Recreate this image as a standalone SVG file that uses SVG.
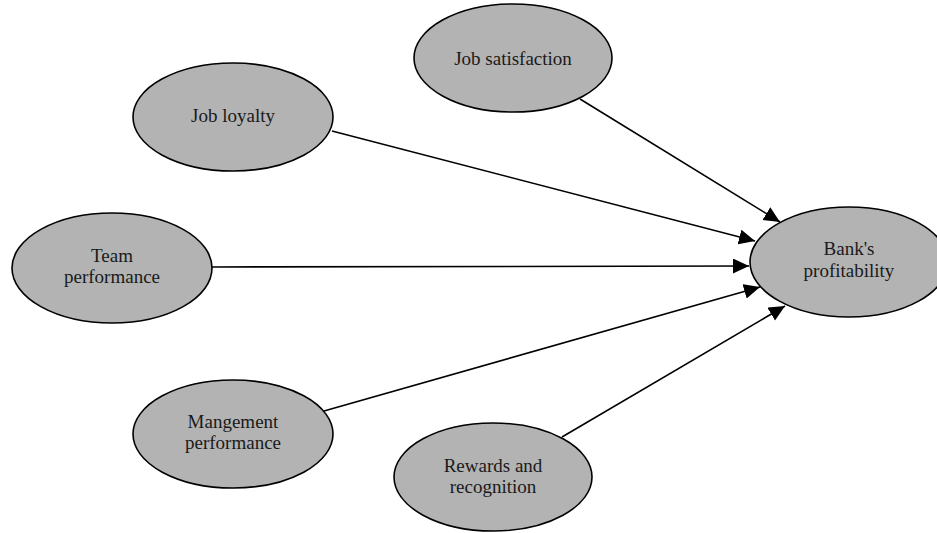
<svg xmlns="http://www.w3.org/2000/svg" width="937" height="533" viewBox="0 0 937 533">
  <style>
    .node ellipse { fill: #b3b3b3; stroke: #000; stroke-width: 1.6; }
    .node text { font-family: "Liberation Serif", "Times New Roman", serif; font-size: 19px; fill: #1a1a1a; text-anchor: middle; }
    .edge { stroke: #000; stroke-width: 1.6; fill: none; marker-end: url(#arrow); }
  </style>
  <defs>
    <marker id="arrow" markerUnits="userSpaceOnUse" markerWidth="18" markerHeight="16" refX="16" refY="7.5" orient="auto">
      <path d="M0,0 L16,7.5 L0,15 Z" fill="#000"/>
    </marker>
  </defs>
  <rect width="937" height="533" fill="#fff"/>

  <g id="connectors">
    <line class="edge" x1="580" y1="99" x2="780" y2="222"/>
    <line class="edge" x1="332" y1="131" x2="755" y2="241"/>
    <line class="edge" x1="212" y1="267" x2="749" y2="266"/>
    <line class="edge" x1="324" y1="411" x2="760" y2="287"/>
    <line class="edge" x1="562" y1="437" x2="785" y2="306"/>
  </g>

  <g id="job-satisfaction" class="node">
    <ellipse cx="513" cy="58" rx="99" ry="54"/>
    <text x="513" y="65">Job satisfaction</text>
  </g>
  <g id="job-loyalty" class="node">
    <ellipse cx="233" cy="117" rx="100" ry="54"/>
    <text x="233" y="122">Job loyalty</text>
  </g>
  <g id="team-performance" class="node">
    <ellipse cx="112" cy="268" rx="100" ry="55"/>
    <text x="112" y="262">Team</text>
    <text x="112" y="283">performance</text>
  </g>
  <g id="banks-profitability" class="node">
    <ellipse cx="849" cy="262" rx="99" ry="55"/>
    <text x="849" y="255">Bank's</text>
    <text x="849" y="277">profitability</text>
  </g>
  <g id="management-performance" class="node">
    <ellipse cx="233" cy="434" rx="100" ry="54"/>
    <text x="233" y="428">Mangement</text>
    <text x="233" y="449">performance</text>
  </g>
  <g id="rewards-recognition" class="node">
    <ellipse cx="493" cy="477" rx="99" ry="54"/>
    <text x="493" y="472">Rewards and</text>
    <text x="493" y="493">recognition</text>
  </g>
</svg>
